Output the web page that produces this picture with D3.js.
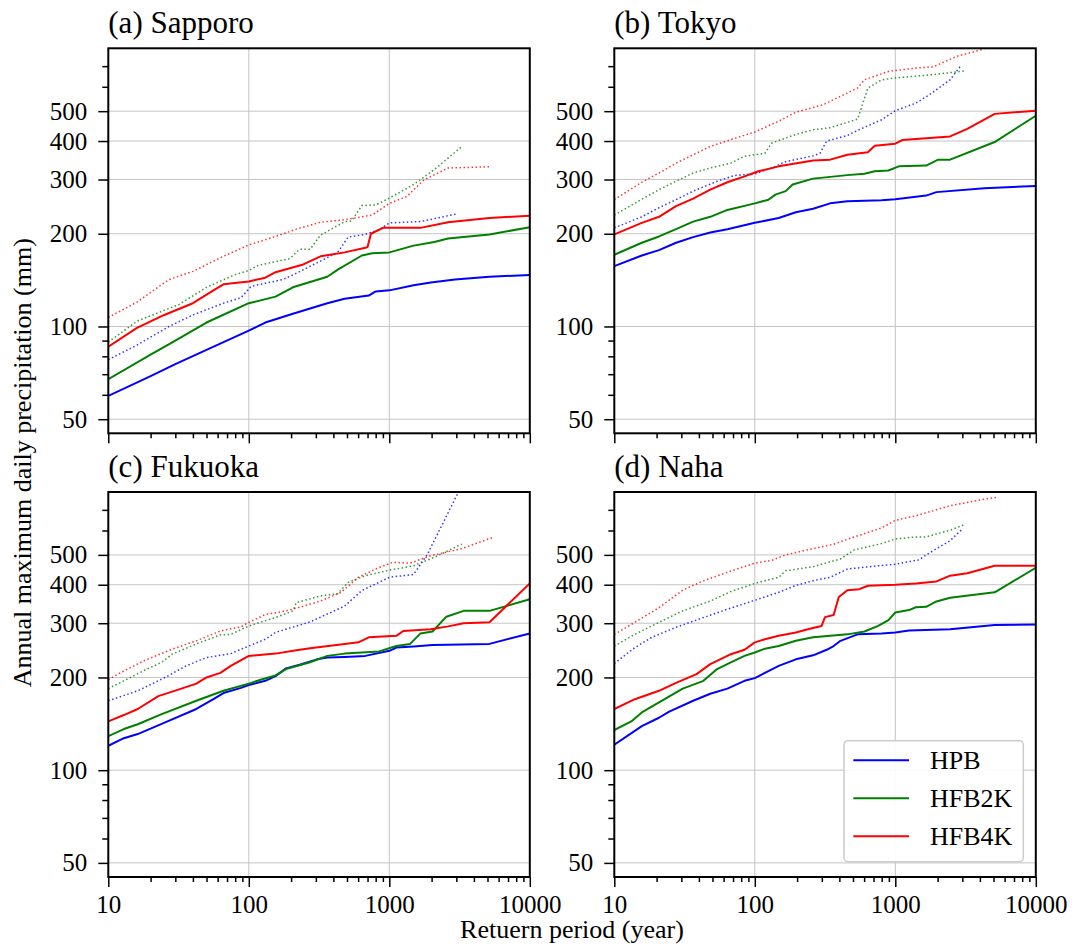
<!DOCTYPE html>
<html>
<head>
<meta charset="utf-8">
<script src="https://cdn.jsdelivr.net/npm/d3@7/dist/d3.min.js"></script>
<style>
    body { margin: 0; background: #fff; }
    text { font-family: "Liberation Serif", "Times New Roman", serif; fill: #000; }
</style>
</head>
<body>
<div id="chart"></div>
<script>
//Datos: [periodo de retorno (años), precipitación (mm)]
const sapporoHpb = [[10,59.5],[20,69],[30,75.5],[50,84],[100,97],[131,103],[206,110],[362,119],[481,123],[714,126],[800,130],[1002,131],[1489,136],[1975,139],[2934,142],[5164,145],[10000,147]];
const sapporoHfb2k = [[10,67.4],[20,81],[30,90],[50,103],[100,119],[155,125],[206,134],[362,145],[430,153],[638,170],[755,173],[1002,174],[1489,183],[2090,188],[2620,193],[5164,199],[10000,210]];
const sapporoHfb4k = [[10,86],[16,99],[25,109],[40,119],[56,131],[66,137],[100,140],[131,144],[155,150],[244,159],[324,169],[481,174],[675,180],[700,181],[740,200],[900,209],[1667,209],[2620,218],[5164,225],[10000,229]];
const sapporoHpbDot = [[10,78],[16,87],[27,100],[40,109],[66,119],[88,124],[104,135],[174,142],[206,147],[324,163],[429,174],[509,195],[675,199],[846,206],[1002,217],[1667,219],[3018,232]];
const sapporoHfb2kDot = [[10,89],[16,104],[32,118],[50,134],[79,147],[100,152],[117,158],[195,166],[230,178],[273,178],[324,198],[481,219],[538,220],[638,247],[800,248],[1002,261],[1489,289],[2090,323],[3286,384]];
const sapporoHfb4kDot = [[10,107],[16,120],[27,142],[40,151],[66,169],[100,184],[155,196],[218,207],[324,218],[481,222],[638,227],[755,230],[1002,251],[1330,264],[1764,299],[2620,327],[5313,330]];

const tokyoHpb = [[10,157],[15.7,170],[20.8,177],[27.5,187],[36.4,195],[48.2,202],[63.8,207],[100,217],[148,225],[196,235],[260,241],[344,251],[456,255],[799,257],[1000,259],[1658,266],[1962,273],[4307,281],[10000,286]];
const tokyoHfb2k = [[10,171],[15.7,187],[20.8,196],[27.5,207],[36.4,219],[48.2,227],[63.8,239],[100,251],[125,258],[140,268],[166,275],[186,289],[260,302],[456,310],[603,313],[714,319],[894,321],[1058,331],[1658,333],[2018,348],[2456,348],[5098,397],[10000,483]];
const tokyoHfb4k = [[10,199],[15.7,217],[20.8,227],[27.5,246],[36.4,260],[48.2,278],[63.8,294],[84.5,307],[106,319],[148,331],[260,346],[344,348],[456,361],[638,368],[714,386],[1000,392],[1119,403],[2456,414],[3252,438],[5098,490],[10000,502]];
const tokyoHpbDot = [[10,209],[15.7,227],[20.8,243],[27.5,258],[36.4,275],[53.9,296],[71.4,309],[100,313],[132,327],[166,343],[260,358],[291,365],[325,400],[456,417],[539,433],[799,469],[1000,502],[1401,531],[1754,566],[2456,632],[2907,700]];
const tokyoHfb2kDot = [[10,230],[15.7,259],[20.8,278],[27.5,296],[36.4,315],[48.2,327],[67.5,339],[84.5,357],[118,365],[132,394],[196,420],[260,435],[344,442],[539,471],[638,595],[799,632],[1000,641],[1855,657],[3162,676]];
const tokyoHfb4kDot = [[10,258],[15.7,294],[20.8,315],[27.5,339],[36.4,361],[48.2,384],[67.5,404],[100,428],[148,464],[196,496],[307,525],[456,573],[539,595],[603,632],[894,673],[1401,690],[1855,696],[2748,754],[4307,796]];

const fukuokaHpb = [[10,120],[12.9,127],[16.2,131],[25.4,143],[42.3,158],[56,170],[66,178],[88,185],[100,189],[131,195],[155,202],[184,214],[230,220],[306,229],[362,232],[481,233],[675,235],[1002,244],[1122,250],[1489,252],[2032,255],[5164,257],[10000,278]];
const fukuokaHfb2k = [[10,129],[12.9,136],[16.2,141],[24,152],[42.3,168],[66,181],[100,191],[123,197],[155,203],[184,213],[273,224],[362,235],[481,239],[846,243],[1122,253],[1407,257],[1667,278],[2032,282],[2547,315],[3380,329],[5164,329],[10000,359]];
const fukuokaHfb4k = [[10,144],[12.9,151],[16.2,158],[22.7,174],[31.9,183],[42.3,191],[50,200],[62.8,207],[74.4,218],[100,235],[155,239],[218,245],[273,249],[481,257],[603,260],[714,270],[1122,273],[1257,283],[1975,287],[2620,293],[3380,300],[5164,302],[10000,404]];
const fukuokaHpbDot = [[10,168],[16.2,181],[25.4,200],[35.7,218],[50,232],[74.4,239],[100,253],[131,266],[155,280],[273,303],[429,333],[481,341],[638,383],[1002,423],[1489,432],[1867,502],[3105,800]];
const fukuokaHfb2kDot = [[10,184],[12.9,195],[18.1,211],[24,224],[28.5,238],[42.3,257],[62.8,275],[74.4,276],[100,294],[155,313],[206,329],[218,350],[324,368],[429,374],[509,407],[675,428],[1002,446],[1489,461],[2090,491],[3286,542]];
const fukuokaHfb4kDot = [[10,197],[12.9,210],[18.1,227],[28.5,247],[42.3,263],[62.8,283],[88,292],[100,302],[131,320],[184,329],[230,338],[324,354],[454,378],[603,423],[800,450],[1060,473],[1407,470],[1975,497],[3286,524],[5463,570]];

const nahaHpb = [[10,121],[15.7,139],[20.8,148],[24.6,155],[36.4,168],[48.2,177],[63.8,184],[84.5,195],[100,199],[148,218],[196,229],[260,236],[325,246],[364,253],[407,263],[539,276],[799,278],[1000,280],[1252,284],[2456,287],[5098,296],[10000,297]];
const nahaHfb2k = [[10,135],[13.2,144],[15.7,154],[20.8,166],[30.7,184],[43.1,195],[53.9,213],[67.5,224],[84.5,235],[100,241],[118,248],[148,253],[196,263],[260,270],[456,276],[603,282],[755,294],[894,307],[1000,325],[1252,331],[1401,338],[1658,339],[1962,353],[2456,363],[5098,378],[10000,454]];
const nahaHfb4k = [[10,158],[14,170],[20.8,181],[27.5,192],[38.5,205],[48.2,221],[67.5,238],[84.5,246],[100,260],[118,266],[148,273],[196,280],[246,288],[299,294],[316,314],[364,319],[396,365],[456,384],[554,387],[638,397],[1000,400],[1401,404],[1962,410],[2456,428],[3252,436],[5098,461],[10000,461]];
const nahaHpbDot = [[10,222],[14,250],[18.5,270],[27.5,291],[43.1,313],[63.8,333],[100,356],[148,378],[196,398],[260,412],[344,423],[456,450],[799,462],[1000,466],[1482,482],[1658,500],[2456,556],[2989,606]];
const nahaHfb2kDot = [[10,253],[14,276],[20.8,302],[30.7,329],[48.2,354],[67.5,380],[100,404],[148,423],[166,444],[260,458],[407,485],[510,519],[799,544],[1000,563],[1401,572],[1658,572],[2456,601],[3162,629]];
const nahaHfb4kDot = [[10,276],[14,302],[20.8,337],[30.7,384],[43.1,412],[63.8,439],[100,470],[132,480],[166,500],[260,524],[364,541],[456,562],[799,612],[1000,647],[1401,670],[2456,722],[4307,758],[5391,770]];

const panelTitles = ['(a) Sapporo', '(b) Tokyo', '(c) Fukuoka', '(d) Naha'];
const seriesNames = ['HPB', 'HFB2K', 'HFB4K'];
const xTicks = [10, 100, 1000, 10000];
const yTicks = [50, 100, 200, 300, 400, 500];
const yMinorTicks = [60, 70, 80, 90, 600, 700];

const solidData = [
    [sapporoHpb, sapporoHfb2k, sapporoHfb4k],
    [tokyoHpb, tokyoHfb2k, tokyoHfb4k],
    [fukuokaHpb, fukuokaHfb2k, fukuokaHfb4k],
    [nahaHpb, nahaHfb2k, nahaHfb4k]
];
const dotData = [
    [sapporoHpbDot, sapporoHfb2kDot, sapporoHfb4kDot],
    [tokyoHpbDot, tokyoHfb2kDot, tokyoHfb4kDot],
    [fukuokaHpbDot, fukuokaHfb2kDot, fukuokaHfb4kDot],
    [nahaHpbDot, nahaHfb2kDot, nahaHfb4kDot]
];

const COLORS = ['#0000ff', '#008000', '#ff0000'];
const FONT = '"Liberation Serif", "Times New Roman", serif';

///Tamaño y posiciones de los paneles
let width = 421.5,
    height = 385;
let lefts = [108.3, 614.3],
    tops = [48.3, 492];

let svg = d3.select('#chart')
    .append('svg')
        .attr('width', 1078)
        .attr('height', 951);

let x = d3.scaleLog()
    .domain([10, 10000])
    .range([0, width]);

let y = d3.scaleLog()
    .domain([45, 800])
    .range([height, 0]);

let xMinor = x.ticks().filter(function(d) { return xTicks.indexOf(d) < 0; });

let line = d3.line()
    .x(function(d) { return x(d[0]); })
    .y(function(d) { return y(d[1]); });

panelTitles.forEach(function(title, p) {
    let col = p % 2, row = Math.floor(p / 2);
    let g = svg.append('g')
        .attr('transform', 'translate(' + lefts[col] + ',' + tops[row] + ')');

    //Rejilla
    g.append('g')
        .selectAll('line')
        .data(yTicks)
        .enter()
        .append('line')
        .attr('x1', 0)
        .attr('x2', width)
        .attr('y1', function(d) { return y(d); })
        .attr('y2', function(d) { return y(d); })
        .attr('stroke', '#c4c4c4')
        .attr('stroke-width', 1);

    g.append('g')
        .selectAll('line')
        .data([100, 1000])
        .enter()
        .append('line')
        .attr('x1', function(d) { return x(d); })
        .attr('x2', function(d) { return x(d); })
        .attr('y1', 0)
        .attr('y2', height)
        .attr('stroke', '#c4c4c4')
        .attr('stroke-width', 1);

    g.append('clipPath')
        .attr('id', 'clip' + p)
        .append('rect')
        .attr('width', width)
        .attr('height', height);

    let lines = g.append('g').attr('clip-path', 'url(#clip' + p + ')');

    //Líneas punteadas
    dotData[p].forEach(function(serie, i) {
        lines.append('path')
            .datum(serie)
            .attr('d', line)
            .attr('fill', 'none')
            .attr('stroke', COLORS[i])
            .attr('stroke-opacity', 0.8)
            .attr('stroke-width', 1.5)
            .attr('stroke-dasharray', '1.5,2.5');
    });

    //Líneas continuas
    solidData[p].forEach(function(serie, i) {
        lines.append('path')
            .datum(serie)
            .attr('d', line)
            .attr('fill', 'none')
            .attr('stroke', COLORS[i])
            .attr('stroke-width', 2)
            .attr('stroke-linejoin', 'round');
    });

    //Ejes
    g.append('g')
        .call(d3.axisLeft(y).tickValues(yTicks).tickFormat(d3.format('d')).tickSize(10).tickPadding(11));
    g.append('g')
        .call(d3.axisLeft(y).tickValues(yMinorTicks).tickFormat('').tickSize(6));

    let xAxis = g.append('g')
        .attr('transform', 'translate(0,' + height + ')')
        .call(d3.axisBottom(x).tickValues(xTicks).tickFormat(d3.format('d')).tickSize(10).tickPadding(8));
    g.append('g')
        .attr('transform', 'translate(0,' + height + ')')
        .call(d3.axisBottom(x).tickValues(xMinor).tickFormat('').tickSize(5));

    if (row == 0) { xAxis.selectAll('text').remove(); }

    g.selectAll('.domain').remove();
    g.selectAll('.tick line').attr('stroke', '#000').attr('stroke-width', 1.5);
    g.selectAll('.tick text')
        .attr('font-family', FONT)
        .attr('font-size', 25)
        .attr('fill', '#000');

    //Marco
    g.append('rect')
        .attr('width', width)
        .attr('height', height)
        .attr('fill', 'none')
        .attr('stroke', '#000')
        .attr('stroke-width', 2);

    //Título
    g.append('text')
        .attr('x', 0)
        .attr('y', -15)
        .attr('font-size', 31)
        .text(title);
});

//Leyenda
let legend = svg.append('g')
    .attr('transform', 'translate(844,740.7)');

legend.append('rect')
    .attr('width', 179.3)
    .attr('height', 121)
    .attr('rx', 4)
    .attr('fill', '#fff')
    .attr('fill-opacity', 0.9)
    .attr('stroke', '#cccccc')
    .attr('stroke-width', 1.5);

seriesNames.forEach(function(name, i) {
    legend.append('line')
        .attr('x1', 9.3)
        .attr('x2', 65)
        .attr('y1', 19.6 + i * 38)
        .attr('y2', 19.6 + i * 38)
        .attr('stroke', COLORS[i])
        .attr('stroke-width', 2);
    legend.append('text')
        .attr('x', 86)
        .attr('y', 19.6 + i * 38)
        .attr('dy', '0.35em')
        .attr('font-size', 26)
        .text(name);
});

//Títulos de los ejes
svg.append('text')
    .attr('transform', 'translate(31,462.7) rotate(-90)')
    .attr('text-anchor', 'middle')
    .attr('font-size', 26)
    .text('Annual maximum daily precipitation (mm)');

svg.append('text')
    .attr('x', 572)
    .attr('y', 938.3)
    .attr('text-anchor', 'middle')
    .attr('font-size', 26)
    .text('Retuern period (year)');
</script>
</body>
</html>
